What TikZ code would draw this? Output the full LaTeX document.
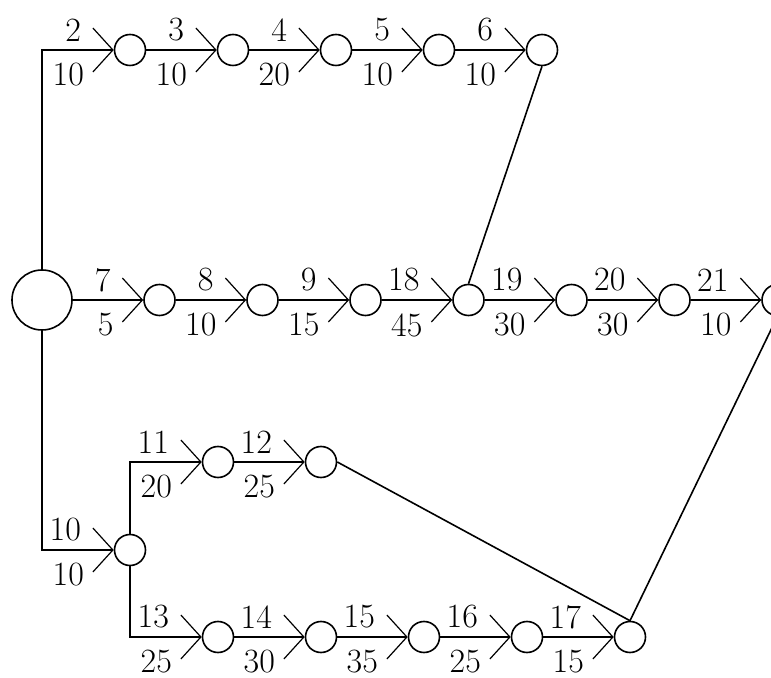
\documentclass[tikz,border=0pt]{standalone}
\usetikzlibrary{arrows.meta, positioning}

\begin{document}
\begin{tikzpicture}[x=0.5pt, y=-0.5pt, line width=0.8pt,
    event/.style={circle, draw, minimum size=15.5pt, inner sep=0pt},
    source/.style={event, minimum size=30pt},
    arrow/.style={-{Straight Barb[length=10pt, width=22pt, line width=0.6pt]}},
    num/.style={font=\fontsize{17}{20}\selectfont, inner sep=0pt, anchor=east, at end},
    actno/.style={num, shift={(-32,-20)}},
    dur/.style={num, shift={(-29,25)}},
    node distance=35.2pt
]
\useasboundingbox (0,0) rectangle (771,678);

\node (S) [source] at (42,300) {};

% top chain
\node (E2) [event] at (130,50) {};
\node (E3) [event, right=of E2] {};
\node (E4) [event, right=of E3] {};
\node (E5) [event, right=of E4] {};
\node (E6) [event, right=of E5] {};

% middle chain
\node (E7)  [event, right=of S] {};
\node (E8)  [event, right=of E7] {};
\node (E9)  [event, right=of E8] {};
\node (E18) [event, right=of E9] {};
\node (E19) [event, right=of E18] {};
\node (E20) [event, right=of E19] {};
\node (E21) [event, right=of E20] {};

% lower branches
\node (E10) [event] at (130,550) {};
\node (E11) [event] at (218,462) {};
\node (E12) [event, right=of E11] {};
\node (E13) [event] at (218,637) {};
\node (E14) [event, right=of E13] {};
\node (E15) [event, right=of E14] {};
\node (E16) [event, right=of E15] {};
\node (E17) [event, right=of E16] {};

\draw [arrow] (S.north) |- (E2.west) node (A2) [actno] {2} node (D2) [dur] {10};
\draw [arrow] (E2.east) -- (E3.west) node (A3) [actno] {3} node (D3) [dur] {10};
\draw [arrow] (E3.east) -- (E4.west) node (A4) [actno] {4} node (D4) [dur] {20};
\draw [arrow] (E4.east) -- (E5.west) node (A5) [actno] {5} node (D5) [dur] {10};
\draw [arrow] (E5.east) -- (E6.west) node (A6) [actno] {6} node (D6) [dur] {10};

\draw [arrow] (S.east) -- (E7.west) node (A7) [actno] {7} node (D7) [dur] {5};
\draw [arrow] (E7.east) -- (E8.west) node (A8) [actno] {8} node (D8) [dur] {10};
\draw [arrow] (E8.east) -- (E9.west) node (A9) [actno] {9} node (D9) [dur] {15};
\draw [arrow] (E9.east) -- (E18.west) node (A18) [actno] {18} node (D18) [dur] {45};
\draw [arrow] (E18.east) -- (E19.west) node (A19) [actno] {19} node (D19) [dur] {30};
\draw [arrow] (E19.east) -- (E20.west) node (A20) [actno] {20} node (D20) [dur] {30};
\draw [arrow] (E20.east) -- (E21.west) node (A21) [actno] {21} node (D21) [dur] {10};

\draw [arrow] (S.south) |- (E10.west) node (A10) [actno] {10} node (D10) [dur] {10};
\draw [arrow] (E10.north) |- (E11.west) node (A11) [actno] {11} node (D11) [dur] {20};
\draw [arrow] (E11.east) -- (E12.west) node (A12) [actno] {12} node (D12) [dur] {25};
\draw [arrow] (E10.south) |- (E13.west) node (A13) [actno] {13} node (D13) [dur] {25};
\draw [arrow] (E13.east) -- (E14.west) node (A14) [actno] {14} node (D14) [dur] {30};
\draw [arrow] (E14.east) -- (E15.west) node (A15) [actno] {15} node (D15) [dur] {35};
\draw [arrow] (E15.east) -- (E16.west) node (A16) [actno] {16} node (D16) [dur] {25};
\draw [arrow] (E16.east) -- (E17.west) node (A17) [actno] {17} node (D17) [dur] {15};

\draw (E6.south) -- (E18.north);
\draw (E12.east) -- (E17.north);
\draw (E17.north) -- (E21.south);

\end{tikzpicture}
\end{document}
